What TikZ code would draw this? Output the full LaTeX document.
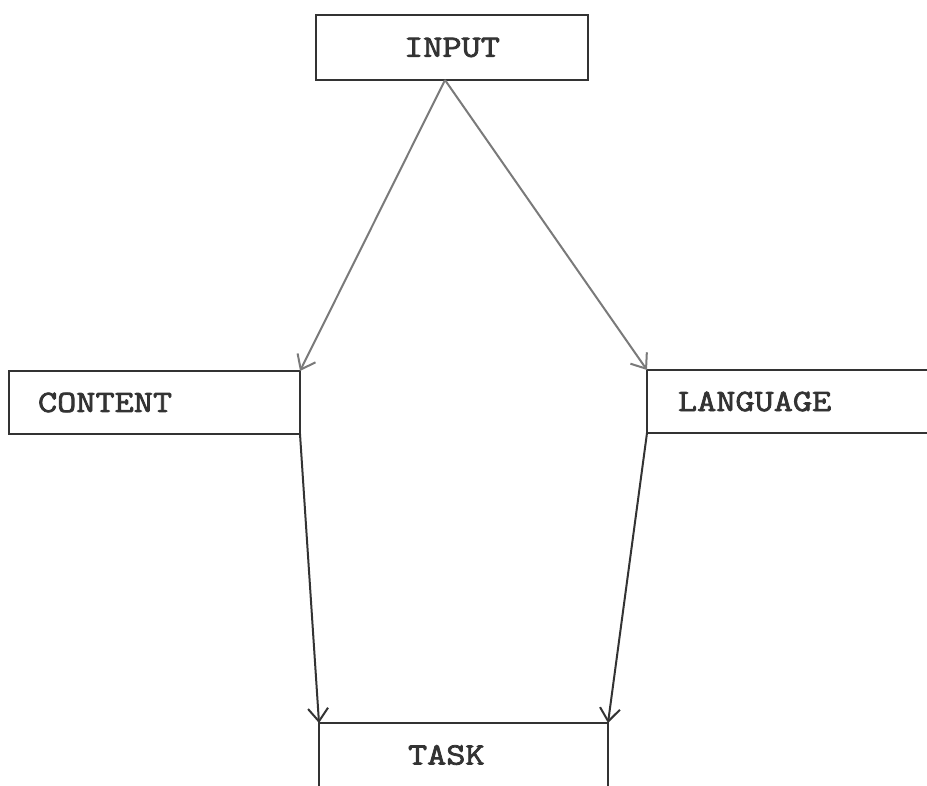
\documentclass[tikz,border=0pt]{standalone}
\usepackage{fontspec}
\newfontfamily\typefont[FakeStretch=1.2, FakeBold=2.5]{Latin Modern Mono}
\usetikzlibrary{arrows.meta}
\definecolor{ink}{HTML}{333333}
\definecolor{pale}{HTML}{7A7A7A}
\begin{document}
\begin{tikzpicture}[x=1pt,y=-1pt,
  box/.style={draw=ink, line width=2.2pt, rectangle, inner sep=0pt, outer sep=0pt,
    font=\typefont\fontsize{31}{31}\selectfont, text=ink},
  arr/.style={line width=2pt, -{Straight Barb[length=13pt,width=20pt,line width=2pt]}},
]
\useasboundingbox (0,0) rectangle (927,786);
\clip (0,0) rectangle (927,786);
\node[box, minimum width=272, minimum height=65] (input) at (452,47.5) {INPUT};
\node[box, minimum width=291, minimum height=63, text width=233, align=left] (content) at (154.5,402.5) {CONTENT};
\node[box, minimum width=293, minimum height=63, text width=231, align=left] (language) at (793.5,401.5) {LANGUAGE};
\node[box, minimum width=289, minimum height=64, text width=111, align=left] (task) at (463.5,755) {TASK};
\coordinate (apex) at ([xshift=-7pt]input.south);
\draw[arr, pale] (apex) -- (content.north east);
\draw[arr, pale] (apex) -- (language.north west);
\draw[arr, ink] (content.south east) -- (task.north west);
\draw[arr, ink] (language.south west) -- (task.north east);
\end{tikzpicture}
\end{document}
